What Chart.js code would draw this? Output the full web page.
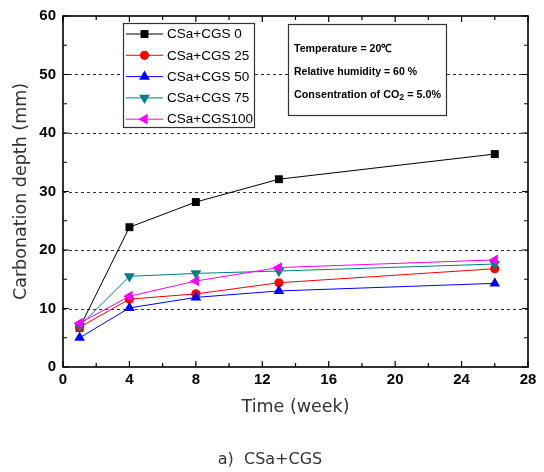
<!DOCTYPE html>
<html><head><meta charset="utf-8">
<script src="https://cdn.jsdelivr.net/npm/chart.js@4.4.0/dist/chart.umd.min.js"></script>
<style>html,body{margin:0;padding:0;background:#fff;}canvas{display:block}</style>
</head><body>
<canvas id="c" width="544" height="472"></canvas>
<script>
// ---- data ----
const weeks = [1, 4, 8, 13, 26];
const cgs0   = [6.7, 23.9, 28.2, 32.1, 36.4];
const cgs25  = [6.8, 11.6, 12.5, 14.4, 16.8];
const cgs50  = [5.0, 10.1, 11.9, 13.0, 14.3];
const cgs75  = [7.0, 15.5, 16.0, 16.4, 17.6];
const cgs100 = [7.5, 12.1, 14.7, 17.0, 18.3];
const seriesNames = ['CSa+CGS 0', 'CSa+CGS 25', 'CSa+CGS 50', 'CSa+CGS 75', 'CSa+CGS100'];
const xTickValues = [0, 4, 8, 12, 16, 20, 24, 28];
const yTickValues = [0, 10, 20, 30, 40, 50, 60];
const xTitle = 'Time (week)';
const yTitle = 'Carbonation depth (mm)';
const caption = 'a)  CSa+CGS';
const conditionLines = ['Temperature = 20\u2103', 'Relative humidity = 60 %'];
const co2Line = ['Consentration of CO', '2', ' = 5.0%'];

const colors = ['#000000', '#ff0000', '#0000ff', '#008080', '#ff00ff'];
const styles = [
  {pointStyle: 'rect', rotation: 0, radius: 5.6},
  {pointStyle: 'circle', rotation: 0, radius: 4.6},
  {pointStyle: 'triangle', rotation: 0, radius: 6.2},
  {pointStyle: 'triangle', rotation: 180, radius: 6.2},
  {pointStyle: 'triangle', rotation: 270, radius: 6.2}
];
const values = [cgs0, cgs25, cgs50, cgs75, cgs100];

const datasets = values.map((vals, i) => ({
  label: seriesNames[i],
  data: vals.map((v, j) => ({x: weeks[j], y: v})),
  borderColor: colors[i],
  backgroundColor: colors[i],
  borderWidth: 1,
  pointStyle: styles[i].pointStyle,
  pointRotation: styles[i].rotation,
  pointRadius: styles[i].radius,
  pointHoverRadius: styles[i].radius,
  pointBorderWidth: 0,
  tension: 0,
  order: 4 - i
}));

function drawMarker(ctx, st, color, x, y) {
  ctx.save();
  ctx.fillStyle = color; ctx.strokeStyle = color;
  if (Chart.helpers && Chart.helpers.drawPoint) {
    Chart.helpers.drawPoint(ctx, {pointStyle: st.pointStyle, rotation: st.rotation, radius: st.radius, borderWidth: 0}, x, y);
  }
  ctx.restore();
}

const decor = {
  id: 'decor',
  beforeDatasetsDraw(chart) {
    const ctx = chart.ctx, a = chart.chartArea;
    const xs = chart.scales.x, ys = chart.scales.y;
    ctx.save();
    // dashed grid lines
    ctx.strokeStyle = '#333'; ctx.lineWidth = 1; ctx.setLineDash([3, 3]);
    yTickValues.forEach(v => {
      if (v === ys.min || v === ys.max) return;
      const p = Math.round(ys.getPixelForValue(v)) + 0.5;
      ctx.beginPath(); ctx.moveTo(a.left, p); ctx.lineTo(a.right, p); ctx.stroke();
    });
    ctx.setLineDash([]);
    // inward ticks
    ctx.strokeStyle = '#000'; ctx.lineWidth = 1.2;
    for (let v = ys.min; v <= ys.max; v += 5) {
      const p = ys.getPixelForValue(v);
      const L = (v % 10 === 0) ? 6 : 4;
      ctx.beginPath(); ctx.moveTo(a.left, p); ctx.lineTo(a.left + L, p);
      ctx.moveTo(a.right, p); ctx.lineTo(a.right - L, p); ctx.stroke();
    }
    for (let v = xs.min; v <= xs.max; v += 2) {
      const p = xs.getPixelForValue(v);
      const L = (v % 4 === 0) ? 6 : 4;
      ctx.beginPath(); ctx.moveTo(p, a.bottom); ctx.lineTo(p, a.bottom - L);
      ctx.moveTo(p, a.top); ctx.lineTo(p, a.top + L); ctx.stroke();
    }
    // frame
    ctx.lineWidth = 1.6;
    ctx.strokeRect(a.left, a.top, a.right - a.left, a.bottom - a.top);
    ctx.restore();
  },
  afterDraw(chart) {
    const ctx = chart.ctx;
    ctx.save();
    // legend box
    ctx.fillStyle = '#fff';
    ctx.fillRect(123, 23, 131, 104);
    ctx.strokeStyle = '#333'; ctx.lineWidth = 1.2;
    ctx.strokeRect(123.5, 23.5, 131, 104);
    ctx.font = '13.5px "Liberation Sans", Arial, sans-serif';
    ctx.textBaseline = 'middle'; ctx.textAlign = 'left';
    seriesNames.forEach((name, i) => {
      const y = 34 + i * 21.3;
      ctx.strokeStyle = colors[i]; ctx.lineWidth = 1;
      ctx.beginPath(); ctx.moveTo(126, y); ctx.lineTo(163, y); ctx.stroke();
      drawMarker(ctx, styles[i], colors[i], 144.5, y);
      ctx.fillStyle = '#000';
      ctx.fillText(name, 167, y + 0.5);
    });
    // conditions box
    ctx.fillStyle = '#fff';
    ctx.fillRect(288, 24, 158, 91);
    ctx.strokeStyle = '#333'; ctx.lineWidth = 1.2;
    ctx.strokeRect(288.5, 24.5, 158, 91);
    ctx.fillStyle = '#000';
    ctx.font = 'bold 11px "Liberation Sans", Arial, sans-serif';
    ctx.fillText(conditionLines[0], 294, 49, 98);
    ctx.fillText(conditionLines[1], 294, 72, 123);
    // CO2 line with subscript
    const big = 'bold 11px "Liberation Sans", Arial, sans-serif';
    const small = 'bold 9px "Liberation Sans", Arial, sans-serif';
    ctx.font = big; const w1 = ctx.measureText(co2Line[0]).width, w3 = ctx.measureText(co2Line[2]).width;
    ctx.font = small; const w2 = ctx.measureText(co2Line[1]).width;
    const sx = Math.min(1, 147 / (w1 + w2 + w3));
    ctx.translate(294, 95); ctx.scale(sx, 1);
    ctx.font = big; ctx.fillText(co2Line[0], 0, 0);
    ctx.font = small; ctx.fillText(co2Line[1], w1, 3);
    ctx.font = big; ctx.fillText(co2Line[2], w1 + w2, 0);
    ctx.setTransform(1, 0, 0, 1, 0, 0);
    // caption
    ctx.fillStyle = '#333';
    ctx.font = '16px "DejaVu Sans", sans-serif';
    ctx.textAlign = 'center';
    ctx.fillText(caption, 270, 460);
    ctx.restore();
  }
};

new Chart(document.getElementById('c'), {
  type: 'line',
  data: {datasets},
  plugins: [decor],
  options: {
    responsive: false,
    animation: false,
    devicePixelRatio: 1,
    layout: {padding: {left: 0, right: 16, top: 15, bottom: 52}},
    plugins: {legend: {display: false}, tooltip: {enabled: false}},
    scales: {
      x: {
        type: 'linear', min: 0, max: 28,
        afterFit: s => { s.height = 53; },
        afterBuildTicks: s => { s.ticks = xTickValues.map(v => ({value: v})); },
        grid: {display: false, drawTicks: false},
        border: {display: false},
        ticks: {color: '#000', padding: 4, maxRotation: 0, autoSkip: false,
          font: {family: '"Liberation Sans", Arial, sans-serif', size: 15, weight: 'bold'}},
        title: {display: true, text: xTitle, color: '#333', padding: {top: 2, bottom: 2},
          font: {family: '"DejaVu Sans", sans-serif', size: 17.5}}
      },
      y: {
        type: 'linear', min: 0, max: 60,
        afterFit: s => { s.width = 63; },
        afterBuildTicks: s => { s.ticks = yTickValues.map(v => ({value: v})); },
        grid: {display: false, drawTicks: false},
        border: {display: false},
        ticks: {color: '#000', padding: 7, autoSkip: false,
          font: {family: '"Liberation Sans", Arial, sans-serif', size: 15, weight: 'bold'}},
        title: {display: true, text: yTitle, color: '#333', padding: {top: 11, bottom: 9},
          font: {family: '"DejaVu Sans", sans-serif', size: 17.5}}
      }
    }
  }
});
</script>
</body></html>
